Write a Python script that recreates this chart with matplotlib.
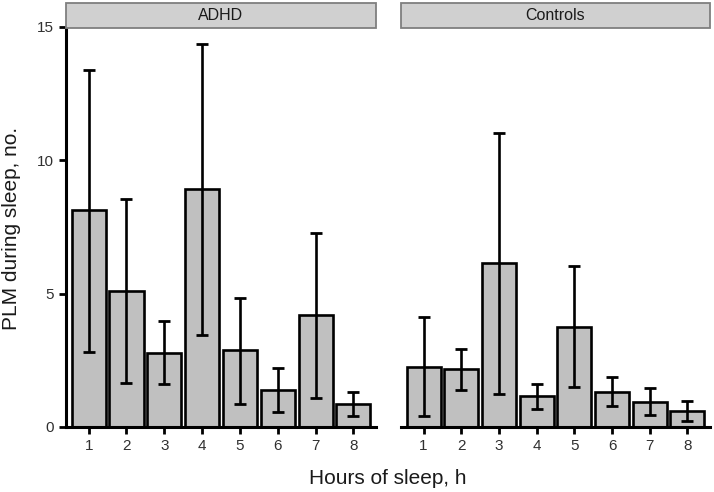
import matplotlib
matplotlib.use("Agg")
import numpy as np
import matplotlib.pyplot as plt
from matplotlib.patches import Rectangle

plt.rcParams["font.family"] = ["Liberation Sans", "DejaVu Sans"]

# data
hours = [1, 2, 3, 4, 5, 6, 7, 8]
groups = ["ADHD", "Controls"]
adhd_mean = [8.14, 5.11, 2.79, 8.91, 2.87, 1.39, 4.19, 0.86]
adhd_hi = [13.4, 8.56, 3.97, 14.36, 4.85, 2.22, 7.27, 1.30]
adhd_lo = [2.81, 1.66, 1.60, 3.45, 0.87, 0.55, 1.10, 0.42]
ctrl_mean = [2.26, 2.16, 6.15, 1.16, 3.75, 1.32, 0.94, 0.60]
ctrl_hi = [4.12, 2.92, 11.04, 1.62, 6.04, 1.87, 1.45, 0.99]
ctrl_lo = [0.41, 1.38, 1.25, 0.69, 1.51, 0.78, 0.44, 0.21]
yticks = [0, 5, 10, 15]

W, H = 714, 492
fig = plt.figure(figsize=(W / 100, H / 100), dpi=100)

panels = [
    (groups[0], adhd_mean, adhd_lo, adhd_hi, 66, 310, True),
    (groups[1], ctrl_mean, ctrl_lo, ctrl_hi, 401, 309, False),
]
y_bot, y_top = 427, 27

for name, mean, lo, hi, x0, w, show_y in panels:
    ax = fig.add_axes([x0 / W, 1 - y_bot / H, w / W, (y_bot - y_top) / H])
    mean = np.array(mean)
    err = [mean - np.array(lo), np.array(hi) - mean]
    ax.bar(hours, mean, width=0.9, color="#c0c0c0", edgecolor="black",
           linewidth=1.9, zorder=2)
    ax.errorbar(hours, mean, yerr=err, fmt="none", ecolor="black",
                elinewidth=1.9, capsize=4.5, capthick=2.0, zorder=3)
    ax.set_xlim(0.4, 8.6)
    ax.set_ylim(0, 15)
    ax.set_xticks(hours)
    ax.set_yticks(yticks)
    for s in ["top", "right"]:
        ax.spines[s].set_visible(False)
    ax.spines["bottom"].set_linewidth(2.2)
    ax.spines["left"].set_linewidth(2.2)
    ax.tick_params(axis="both", width=2, length=5, labelsize=11,
                   colors="black", labelcolor="#303030", pad=4)
    if not show_y:
        ax.spines["left"].set_visible(False)
        ax.tick_params(axis="y", left=False, labelleft=False)

    # facet strip
    strip = Rectangle((x0 / W, 1 - 28 / H), w / W, 25 / H,
                      transform=fig.transFigure, facecolor="#d0d0d0",
                      edgecolor="#7f7f7f", linewidth=1.3, clip_on=False)
    fig.add_artist(strip)
    fig.text((x0 + w / 2) / W, 1 - 16 / H, name, ha="center",
             va="center", fontsize=11.5, color="#1a1a1a")

fig.text(388 / W, 1 - 478 / H, "Hours of sleep, h", ha="center", va="center",
         fontsize=15, color="#1a1a1a")
fig.text(12 / W, 1 - 228 / H, "PLM during sleep, no.", ha="center", va="center",
         rotation=90, fontsize=15, color="#1a1a1a")

fig.savefig("out.png", dpi=100)
